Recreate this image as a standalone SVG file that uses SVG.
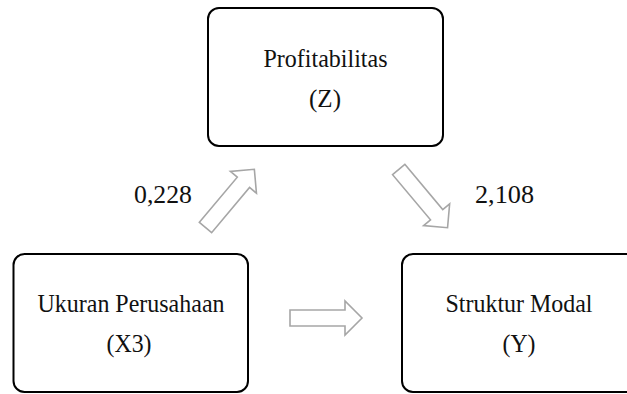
<svg xmlns="http://www.w3.org/2000/svg" width="627" height="394" viewBox="0 0 627 394">
  <defs>
    <!-- hollow block arrows pointing along +x, tail centred on the origin -->
    <path id="arrowDiag" d="M0,-8 L59,-8 L59,-17 L76,0 L59,17 L59,8 L0,8 Z"/>
    <path id="arrowFlat" d="M0,-8 L55,-8 L55,-17 L72,0 L55,17 L55,8 L0,8 Z"/>
  </defs>
  <style>
    .box { fill: #ffffff; stroke: #000000; stroke-width: 2; }
    .lbl { font-family: "Liberation Serif", "Times New Roman", serif; font-size: 26px; fill: #111111; text-anchor: middle; }
    .arrow { fill: #ffffff; stroke: #a6a6a6; stroke-width: 1.6; stroke-linejoin: miter; }
  </style>
  <rect width="627" height="394" fill="#ffffff"/>

  <g id="node-profitabilitas">
    <rect class="box" x="208" y="8" width="235" height="138" rx="11"/>
    <text class="lbl" x="325.5" y="67" textLength="124" lengthAdjust="spacingAndGlyphs">Profitabilitas</text>
    <text class="lbl" x="325" y="107" textLength="32" lengthAdjust="spacingAndGlyphs">(Z)</text>
  </g>

  <g id="node-ukuran">
    <rect class="box" x="13.5" y="254" width="234.5" height="138" rx="11"/>
    <text class="lbl" x="131" y="312" textLength="187" lengthAdjust="spacingAndGlyphs">Ukuran Perusahaan</text>
    <text class="lbl" x="129" y="352" textLength="45" lengthAdjust="spacingAndGlyphs">(X3)</text>
  </g>

  <g id="node-struktur">
    <rect class="box" x="402" y="254" width="235" height="138" rx="11"/>
    <text class="lbl" x="519" y="312" textLength="147" lengthAdjust="spacingAndGlyphs">Struktur Modal</text>
    <text class="lbl" x="519" y="352" textLength="33" lengthAdjust="spacingAndGlyphs">(Y)</text>
  </g>

  <g id="connectors">
    <use href="#arrowDiag" class="arrow" transform="translate(205.5,227.5) rotate(-50)"/>
    <use href="#arrowDiag" class="arrow" transform="translate(398.7,169.5) rotate(50)"/>
    <use href="#arrowFlat" class="arrow" transform="translate(290,318)"/>
    <text class="lbl" x="163" y="203" textLength="58" lengthAdjust="spacingAndGlyphs">0,228</text>
    <text class="lbl" x="504.5" y="203" textLength="59" lengthAdjust="spacingAndGlyphs">2,108</text>
  </g>
</svg>
